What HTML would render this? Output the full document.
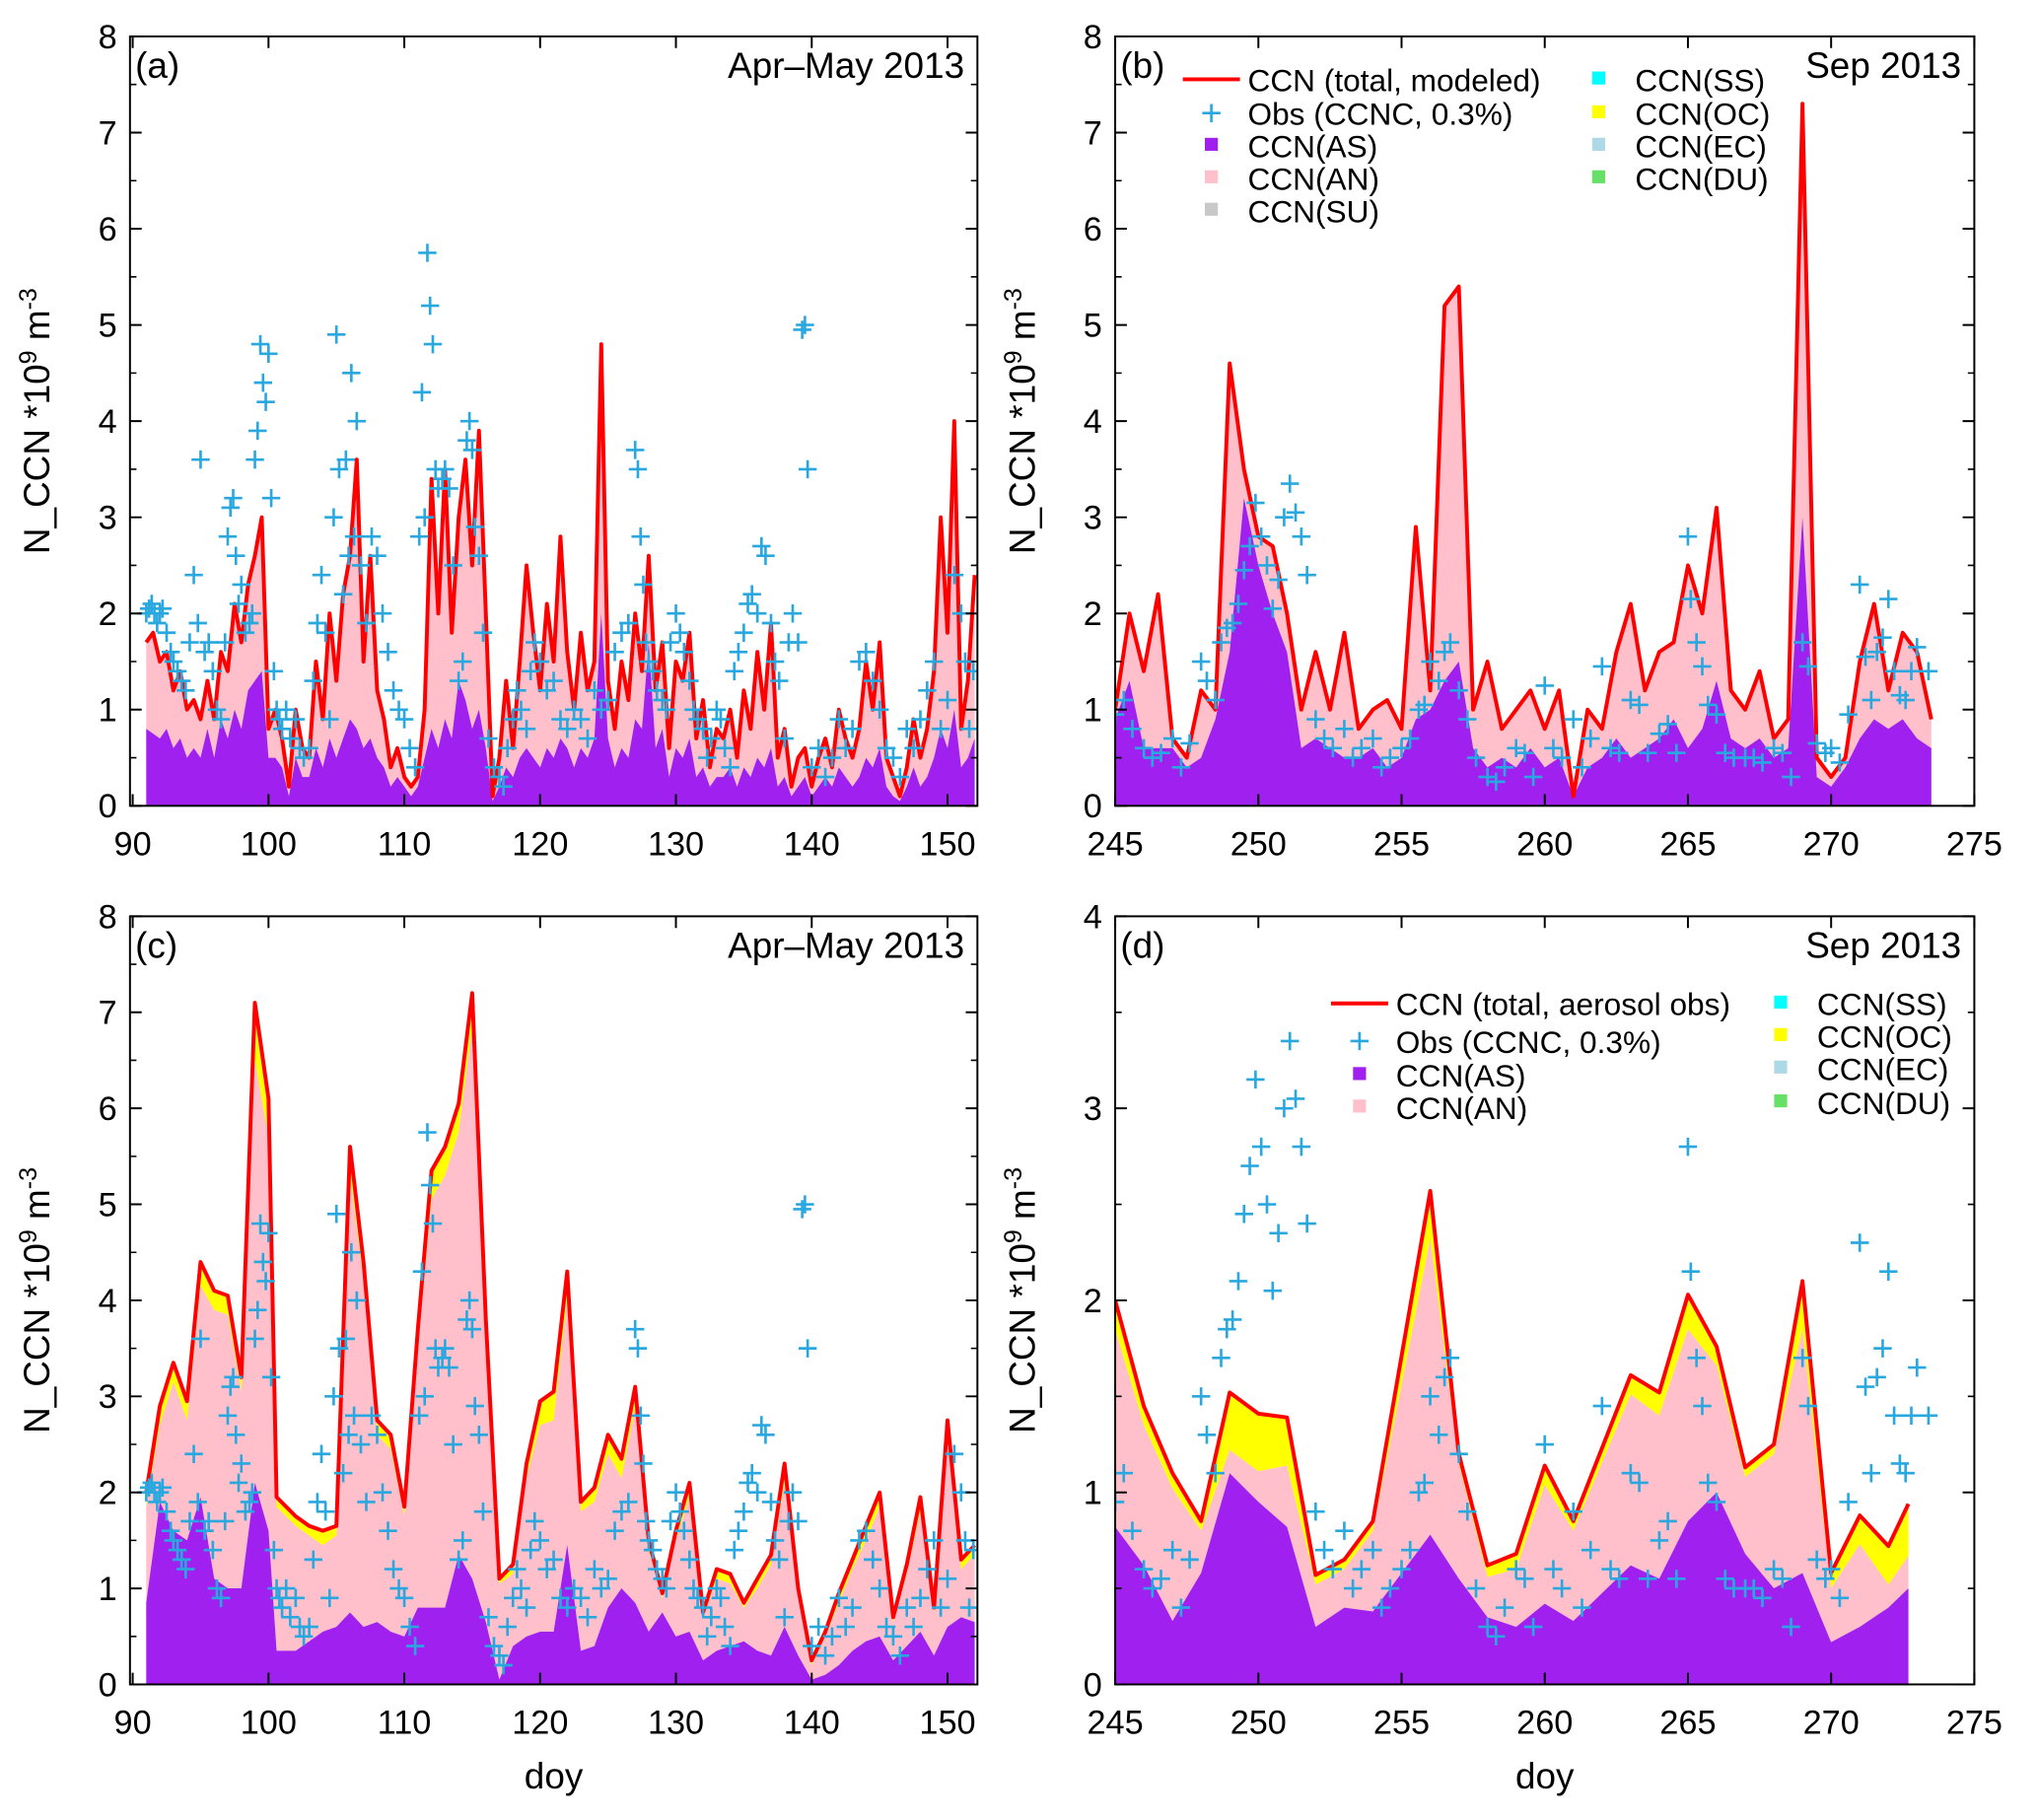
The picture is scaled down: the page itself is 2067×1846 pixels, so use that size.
<!DOCTYPE html>
<html><head><meta charset="utf-8"><style>
html,body{margin:0;padding:0;background:#fff}
svg{display:block;font-family:"Liberation Sans",Arial,sans-serif}
</style></head><body>
<svg id="fig" width="2067" height="1846" viewBox="0 0 1568 1400.3" xmlns="http://www.w3.org/2000/svg"></svg>
<script>
// ---- Panel (a): modeled, 0.5-day steps from doy 91 ----
const totalA=[1.7,1.8,1.5,1.6,1.2,1.4,1.0,1.1,0.9,1.3,0.9,1.6,1.4,2.1,1.7,2.3,2.6,3.0,0.8,1.0,0.7,0.2,1.0,0.6,0.5,1.5,0.9,2.0,1.3,2.2,2.6,3.6,1.5,2.6,1.2,0.9,0.4,0.6,0.3,0.2,0.3,1.0,3.4,2.0,3.5,1.8,3.0,3.6,2.5,3.9,2.0,0.1,0.5,1.3,0.6,1.5,2.5,1.8,1.2,2.1,1.5,2.8,1.6,1.0,1.8,1.2,1.5,4.8,1.3,0.8,1.5,1.1,2.0,1.4,2.6,1.2,1.7,0.6,1.5,1.3,1.8,0.7,1.1,0.4,0.8,0.7,1.0,0.5,1.2,0.8,1.6,1.0,1.9,0.5,0.8,0.2,0.5,0.6,0.2,0.5,0.7,0.4,1.0,0.7,0.5,0.8,1.5,1.0,1.7,0.5,0.3,0.1,0.4,0.9,0.5,0.8,1.4,3.0,1.8,4.0,0.8,1.3,2.4];
const asA=[0.8,0.75,0.7,0.8,0.6,0.7,0.5,0.6,0.5,0.8,0.5,0.9,0.7,1.0,0.8,1.2,1.3,1.4,0.5,0.5,0.4,0.1,0.5,0.3,0.3,0.6,0.4,0.7,0.5,0.7,0.9,0.8,0.6,0.7,0.5,0.4,0.2,0.3,0.2,0.1,0.2,0.5,0.8,0.6,0.9,0.7,1.3,1.1,0.8,1.0,0.6,0.05,0.2,0.4,0.3,0.5,0.6,0.5,0.4,0.6,0.5,0.7,0.6,0.4,0.6,0.5,0.7,2.0,0.7,0.4,0.6,0.5,0.9,0.8,1.7,0.6,0.8,0.3,0.6,0.5,0.7,0.3,0.4,0.2,0.3,0.3,0.4,0.2,0.4,0.3,0.5,0.4,0.6,0.2,0.3,0.1,0.2,0.3,0.1,0.2,0.3,0.2,0.4,0.3,0.2,0.3,0.5,0.4,0.6,0.2,0.1,0.05,0.2,0.4,0.2,0.3,0.5,0.8,0.6,1.0,0.4,0.5,0.7];
// ---- Panel (b): modeled, 0.5-day steps from doy 245 ----
const totalB=[1.0,2.0,1.4,2.2,0.7,0.5,1.2,1.0,4.6,3.5,2.8,2.7,2.0,1.0,1.6,1.0,1.8,0.8,1.0,1.1,0.8,2.9,1.2,5.2,5.4,1.0,1.5,0.8,1.0,1.2,0.8,1.2,0.1,1.0,0.8,1.6,2.1,1.2,1.6,1.7,2.5,2.0,3.1,1.2,1.0,1.4,0.7,0.9,7.3,0.5,0.3,0.5,1.5,2.1,1.2,1.8,1.6,0.9];
const asB=[0.9,1.3,0.6,0.6,0.6,0.4,0.5,0.9,1.6,3.2,2.5,2.0,1.6,0.6,0.7,0.6,0.5,0.5,0.6,0.4,0.5,0.9,1.0,1.3,1.5,0.6,0.4,0.5,0.4,0.6,0.4,0.5,0.1,0.4,0.5,0.7,0.5,0.6,0.7,0.9,0.6,0.8,1.3,0.7,0.6,0.7,0.5,0.6,3.0,0.3,0.2,0.4,0.7,0.9,0.8,0.9,0.7,0.6];
// ---- Panel (c): daily, aerosol-obs based ----
const daysC=[91,92,93,94,95,96,97,98,99,100,100.6,102,103,104,105,106,107,108,109,110,111,112,113,114,115,116,117,118,119,120,121,122,123,124,125,126,127,128,129,130,131,132,133,134,135,136,137,138,139,140,141,142,143,144,145,146,147,148,149,150,151,152];
const totalC=[2.0,2.9,3.35,2.95,4.4,4.1,4.05,3.2,7.1,6.1,1.95,1.75,1.65,1.6,1.65,5.6,4.4,2.75,2.6,1.85,3.7,5.35,5.6,6.05,7.2,3.8,1.1,1.25,2.3,2.95,3.05,4.3,1.9,2.05,2.6,2.35,3.1,1.5,0.95,1.6,2.1,0.75,1.2,1.15,0.85,1.1,1.35,2.3,1.0,0.25,0.55,0.95,1.3,1.65,2.0,0.7,1.25,1.95,0.8,2.75,1.3,1.45];
const ocC=[0.15,0.2,0.2,0.2,0.25,0.2,0.2,0.15,0.6,0.4,0.1,0.1,0.1,0.15,0.1,0.3,0.2,0.15,0.15,0.1,0.2,0.3,0.3,0.3,0.35,0.2,0.05,0.1,0.15,0.25,0.3,0.3,0.1,0.15,0.2,0.2,0.2,0.1,0.05,0.1,0.15,0.05,0.1,0.1,0.05,0.1,0.1,0.2,0.1,0.05,0.05,0.1,0.1,0.15,0.15,0.05,0.1,0.15,0.05,0.2,0.1,0.1];
const asC=[0.85,1.9,1.6,1.5,1.95,1.1,1.0,1.0,2.1,1.6,0.35,0.35,0.45,0.55,0.6,0.75,0.6,0.65,0.55,0.5,0.8,0.8,0.8,1.35,1.1,0.65,0.05,0.4,0.5,0.55,0.55,1.45,0.35,0.4,0.8,1.0,0.85,0.55,0.75,0.5,0.55,0.25,0.35,0.4,0.45,0.35,0.3,0.6,0.3,0.05,0.1,0.2,0.35,0.45,0.5,0.25,0.4,0.55,0.3,0.6,0.7,0.65];
// ---- Panel (d): daily, aerosol-obs based ----
const daysD=[245,246,247,248,249,250,251,252,253,254,256,257,258,259,260,261,263,264,265,266,267,268,269,270,271,272,272.7];
const totalD=[2.0,1.45,1.1,0.85,1.52,1.41,1.39,0.57,0.65,0.85,2.57,1.2,0.62,0.68,1.14,0.85,1.61,1.52,2.03,1.76,1.13,1.25,2.1,0.58,0.88,0.72,0.94];
const ocD=[0.15,0.1,0.08,0.05,0.3,0.3,0.25,0.05,0.05,0.05,0.25,0.05,0.06,0.08,0.1,0.05,0.1,0.12,0.18,0.1,0.05,0.05,0.25,0.08,0.15,0.2,0.27];
const asD=[0.82,0.62,0.33,0.58,1.1,0.95,0.82,0.3,0.4,0.38,0.78,0.55,0.35,0.3,0.42,0.33,0.62,0.55,0.85,1.0,0.68,0.5,0.58,0.22,0.3,0.4,0.5];
// ---- CCNC observations (0.3%) ----
const obsDayAC=[91,91.2,91.4,91.6,91.8,92,92.2,92.5,92.8,93,93.3,93.6,93.9,94.2,94.5,94.8,95,95.3,95.6,95.9,96.2,96.5,96.8,97,97.2,97.4,97.6,97.8,98,98.3,98.6,98.8,99,99.2,99.4,99.6,99.8,100,100.2,100.4,100.6,100.8,101,101.3,101.6,102,102.3,102.6,103,103.3,103.6,103.9,104.2,104.5,104.8,105,105.2,105.5,105.7,105.9,106.1,106.3,106.5,106.8,107.2,107.6,108,108.4,108.8,109.2,109.6,110,110.4,110.8,111.1,111.3,111.5,111.7,111.9,112.1,112.3,112.5,112.8,113,113.3,113.6,114,114.3,114.6,114.8,115,115.2,115.5,115.8,116.2,116.6,117,117.3,117.6,118,118.3,118.6,119,119.3,119.6,120,120.5,121,121.5,122,122.5,123,123.5,124,124.5,125,125.5,126,126.5,127,127.2,127.4,127.6,127.8,128,128.3,128.6,129,129.3,129.6,130,130.3,130.6,131,131.3,131.6,132,132.3,132.6,133,133.3,133.6,134,134.3,134.6,135,135.3,135.6,136,136.3,136.6,137,137.3,137.6,138,138.3,138.6,139,139.3,139.5,139.7,140,140.5,141,141.5,142,142.5,143,143.5,144,144.5,145,145.5,146,146.5,147,147.5,148,148.5,149,149.5,150,150.5,151,151.3,151.6,151.9];
const obsValAC=[2.0,2.05,2.1,2.0,1.9,2.0,2.05,1.8,1.6,1.5,1.4,1.3,1.2,1.7,2.4,1.9,3.6,1.6,1.7,1.4,1.0,0.9,1.7,2.8,3.1,3.2,2.6,2.1,2.3,1.8,1.9,2.0,3.6,3.9,4.8,4.4,4.2,4.7,3.2,1.4,1.0,0.9,0.8,1.0,0.7,0.9,0.6,0.5,0.6,1.3,1.9,2.4,1.8,0.9,3.0,4.9,3.5,2.2,3.6,2.6,4.5,2.8,4.0,2.5,1.9,2.8,2.6,2.0,1.6,1.2,1.0,0.9,0.6,0.4,2.8,4.3,3.0,5.75,5.2,4.8,3.5,3.3,3.4,3.5,3.3,2.5,1.3,1.5,3.8,4.0,3.7,2.9,2.6,1.8,0.7,0.4,0.3,0.2,0.6,0.9,1.2,1.0,0.8,1.4,1.7,1.5,1.2,1.3,0.9,0.8,1.0,0.9,0.7,1.2,1.0,1.1,1.6,1.8,1.9,3.7,3.5,2.8,2.3,1.7,1.5,1.4,1.2,1.1,1.0,1.7,2.0,1.8,1.6,1.3,1.0,0.9,0.8,0.5,0.7,1.0,0.9,0.6,0.4,1.4,1.6,1.8,2.1,2.2,2.0,2.7,2.6,1.9,1.5,1.3,0.7,1.7,2.0,1.7,4.95,5.0,3.5,0.4,0.6,0.3,0.5,0.9,0.6,0.8,1.5,1.6,1.3,1.0,0.6,0.5,0.3,0.8,0.6,0.9,1.2,1.5,0.8,1.1,2.4,2.0,1.5,0.8,1.4];
const obsDayBD=[245,245.3,245.6,246,246.3,246.6,247,247.3,247.6,248,248.2,248.5,248.7,248.9,249.1,249.3,249.5,249.7,249.9,250.1,250.3,250.5,250.7,250.9,251.1,251.3,251.5,251.7,252,252.3,252.6,253,253.3,253.6,254,254.3,254.6,255,255.3,255.6,255.8,256,256.3,256.5,256.7,257,257.3,257.6,258,258.3,258.6,259,259.3,259.6,260,260.3,260.6,261,261.3,261.6,262,262.3,262.6,263,263.3,263.6,264,264.3,264.6,265,265.1,265.3,265.5,265.7,266,266.3,266.6,267,267.3,267.6,268,268.3,268.6,269,269.2,269.5,269.8,270,270.3,270.6,271,271.2,271.4,271.6,271.8,272,272.2,272.4,272.6,272.8,273,273.4];
const obsValBD=[0.95,1.1,0.8,0.6,0.5,0.55,0.7,0.4,0.65,1.5,1.3,1.1,1.7,1.85,1.9,2.1,2.45,2.7,3.15,2.8,2.5,2.05,2.35,3.0,3.35,3.05,2.8,2.4,0.9,0.7,0.6,0.8,0.5,0.6,0.7,0.4,0.5,0.6,0.7,1.0,1.05,1.5,1.3,1.6,1.7,1.2,0.9,0.5,0.3,0.25,0.4,0.6,0.55,0.3,1.25,0.6,0.5,0.9,0.4,0.7,1.45,0.6,0.55,1.1,1.05,0.55,0.75,0.85,0.55,2.8,2.15,1.7,1.45,1.05,0.95,0.55,0.5,0.5,0.5,0.45,0.6,0.55,0.3,1.7,1.45,0.65,0.55,0.6,0.45,0.95,2.3,1.55,1.1,1.6,1.75,2.15,1.4,1.15,1.1,1.4,1.65,1.4];
const yTicks8=[0,1,2,3,4,5,6,7,8];
const yTicks4=[0,1,2,3,4];
const xTicksAC=[90,100,110,120,130,140,150];
const xTicksBD=[245,250,255,260,265,270,275];

const NS='http://www.w3.org/2000/svg';
const svg=document.getElementById('fig');
function mk(tag,attrs,parent){const e=document.createElementNS(NS,tag);for(const k in attrs)e.setAttribute(k,attrs[k]);(parent||svg).appendChild(e);return e;}
function halfDays(start,n){const d=[];for(let i=0;i<n;i++)d.push(start+i*0.5);return d;}

function areaPath(xs,top,bot,sx,sy){
  let p='M'+sx(xs[0])+','+sy(bot?bot[0]:0);
  for(let i=0;i<xs.length;i++)p+=' L'+sx(xs[i]).toFixed(1)+','+sy(top[i]).toFixed(1);
  for(let i=xs.length-1;i>=0;i--)p+=' L'+sx(xs[i]).toFixed(1)+','+sy(bot?bot[i]:0).toFixed(1);
  return p+'Z';
}
function linePath(xs,ys,sx,sy){return xs.map((x,i)=>(i?'L':'M')+sx(x).toFixed(1)+','+sy(ys[i]).toFixed(1)).join(' ');}

function panel(o){
  const g=mk('g',{});
  
  
  const sx=v=>o.x0+(v-o.xmin)/(o.xmax-o.xmin)*(o.x1-o.x0);
  const sy=v=>o.y1-(v-o.ymin)/(o.ymax-o.ymin)*(o.y1-o.y0);
  const cid='clip-'+o.name;
  const defs=mk('defs',{},g);
  mk('rect',{x:o.x0,y:o.y0,width:o.x1-o.x0,height:o.y1-o.y0},mk('clipPath',{id:cid},defs));
  const data=mk('g',{'clip-path':'url(#'+cid+')'},g);
  
  
  // pink AN up to (total - oc)
  const anTop=o.total.map((t,i)=>t-(o.oc?o.oc[i]:0));
  if(o.oc){const y=mk('path',{d:areaPath(o.days,o.total,anTop,sx,sy),fill:'#ffff00'},data);
    }
  const pk=mk('path',{d:areaPath(o.days,anTop,null,sx,sy),fill:'#ffc0cb'},data);
  
  const pu=mk('path',{d:areaPath(o.days,o.as,null,sx,sy),fill:'#a020f0'},data);
  
  const ln=mk('path',{d:linePath(o.days,o.total,sx,sy),fill:'none',stroke:'#ff0000','stroke-width':3,'stroke-linejoin':'round'},data);
  
  for(let i=0;i<o.obsX.length;i++){
    const cx=sx(o.obsX[i]),cy=sy(o.obsY[i]);
    const m=mk('path',{d:`M${cx-7},${cy} H${cx+7} M${cx},${cy-7} V${cy+7}`,stroke:'#29a8e0','stroke-width':2},data);
    
  }
  // frame
  mk('rect',{x:o.x0,y:o.y0,width:o.x1-o.x0,height:o.y1-o.y0,fill:'none',stroke:'#000','stroke-width':1.5},g);
  // y ticks
  const yStep=o.yTicks[1]-o.yTicks[0];
  for(const t of o.yTicks){
    const y=sy(t);
    mk('path',{d:`M${o.x0},${y}h9 M${o.x1},${y}h-9`,stroke:'#000','stroke-width':1.5},g);
    const tx=mk('text',{x:o.x0-10,y:y+9,'text-anchor':'end','font-size':26},g);tx.textContent=t;
    
    if(t<o.ymax){const ym=sy(t+yStep/2);mk('path',{d:`M${o.x0},${ym}h5 M${o.x1},${ym}h-5`,stroke:'#000','stroke-width':1.2},g);}
  }
  for(const t of o.xTicks){
    const x=sx(t);
    mk('path',{d:`M${x},${o.y1}v-9 M${x},${o.y0}v9`,stroke:'#000','stroke-width':1.5},g);
    const tx=mk('text',{x:x,y:o.y1+38,'text-anchor':'middle','font-size':26},g);tx.textContent=t;
    
  }
  const yt=mk('text',{transform:`translate(${o.x0-62},${(o.y0+o.y1)/2}) rotate(-90)`,'text-anchor':'middle','font-size':28},g);
  yt.innerHTML='N_CCN *10<tspan dy="-10" font-size="19">9</tspan><tspan dy="10"> m</tspan><tspan dy="-10" font-size="19">-3</tspan>';
  
  if(o.xlabel){const xl=mk('text',{x:(o.x0+o.x1)/2,y:o.y1+80,'text-anchor':'middle','font-size':28},g);xl.textContent='doy';
    }
  const pl=mk('text',{x:o.x0+4,y:o.y0+32,'font-size':28},g);pl.textContent=o.label;
  
  const pt=mk('text',{x:o.x1-10,y:o.y0+32,'text-anchor':'end','font-size':28},g);pt.textContent=o.period;
  
  return g;
}

panel({name:'panel-a',x0:100,x1:752,y0:28,y1:620,xmin:89.8,xmax:152.2,ymin:0,ymax:8,yTicks:yTicks8,xTicks:xTicksAC,
  days:halfDays(91,totalA.length),total:totalA,as:asA,obsX:obsDayAC,obsY:obsValAC,label:'(a)',period:'Apr–May 2013'});
panel({name:'panel-b',x0:858,x1:1519,y0:28,y1:620,xmin:245,xmax:275,ymin:0,ymax:8,yTicks:yTicks8,xTicks:xTicksBD,
  days:halfDays(245,totalB.length),total:totalB,as:asB,obsX:obsDayBD,obsY:obsValBD,label:'(b)',period:'Sep 2013'});
panel({name:'panel-c',x0:100,x1:752,y0:705,y1:1296,xmin:89.8,xmax:152.2,ymin:0,ymax:8,yTicks:yTicks8,xTicks:xTicksAC,
  days:daysC,total:totalC,oc:ocC,as:asC,obsX:obsDayAC,obsY:obsValAC,label:'(c)',period:'Apr–May 2013',xlabel:true});
panel({name:'panel-d',x0:858,x1:1519,y0:705,y1:1296,xmin:245,xmax:275,ymin:0,ymax:4,yTicks:yTicks4,xTicks:xTicksBD,
  days:daysD,total:totalD,oc:ocD,as:asD,obsX:obsDayBD,obsY:obsValBD,label:'(d)',period:'Sep 2013',xlabel:true});

function legend(items){
  for(const it of items){
    const g=mk('g',{});
    
    
    if(it.t==='line')mk('path',{d:`M${it.x-28},${it.y-9}h44`,stroke:'#ff0000','stroke-width':3},g);
    else if(it.t==='plus')mk('path',{d:`M${it.x-13},${it.y-9}h14 M${it.x-6},${it.y-16}v14`,stroke:'#29a8e0','stroke-width':2},g);
    else mk('rect',{x:it.x-11,y:it.y-15,width:10,height:10,fill:it.c},g);
    const tx=mk('text',{x:it.x+22,y:it.y,'font-size':24},g);tx.textContent=it.s;
  }
}
legend([
  {t:'line',x:938,y:70,s:'CCN (total, modeled)'},{t:'plus',x:938,y:96,s:'Obs (CCNC, 0.3%)'},
  {t:'sq',c:'#a020f0',x:938,y:121,s:'CCN(AS)'},{t:'sq',c:'#ffc0cb',x:938,y:146,s:'CCN(AN)'},{t:'sq',c:'#c8c8c8',x:938,y:171,s:'CCN(SU)'},
  {t:'sq',c:'#00ffff',x:1236,y:70,s:'CCN(SS)'},{t:'sq',c:'#ffff00',x:1236,y:96,s:'CCN(OC)'},
  {t:'sq',c:'#add8e6',x:1236,y:121,s:'CCN(EC)'},{t:'sq',c:'#66e066',x:1236,y:146,s:'CCN(DU)'},
  {t:'line',x:1052,y:781,s:'CCN (total, aerosol obs)'},{t:'plus',x:1052,y:810,s:'Obs (CCNC, 0.3%)'},
  {t:'sq',c:'#a020f0',x:1052,y:836,s:'CCN(AS)'},{t:'sq',c:'#ffc0cb',x:1052,y:861,s:'CCN(AN)'},
  {t:'sq',c:'#00ffff',x:1376,y:781,s:'CCN(SS)'},{t:'sq',c:'#ffff00',x:1376,y:806,s:'CCN(OC)'},
  {t:'sq',c:'#add8e6',x:1376,y:831,s:'CCN(EC)'},{t:'sq',c:'#66e066',x:1376,y:857,s:'CCN(DU)'}
]);
</script>
</body></html>
